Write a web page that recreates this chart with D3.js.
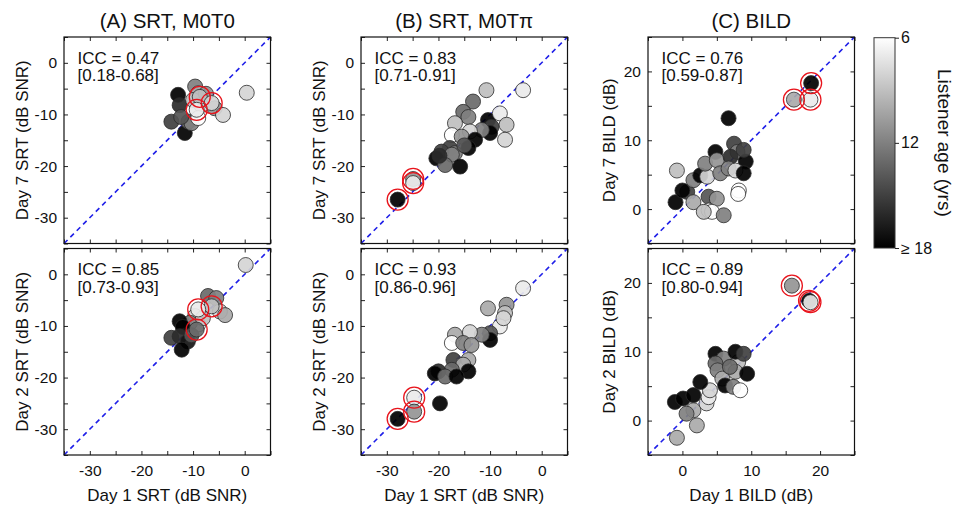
<!DOCTYPE html>
<html>
<head>
<meta charset="utf-8">
<script src="https://cdn.jsdelivr.net/npm/d3@7"></script>
<style>
  body { margin: 0; background: #fff; }
  text { font-family: "Liberation Sans", Arial, Helvetica, sans-serif; fill: #111; }
</style>
</head>
<body>
<svg id="chart" width="955" height="507"></svg>
<script>
// ---- data ----
// (A) SRT M0T0, day 1 vs day 7
const aTopX   = [-12.9, -12.6, -14.2, -11.6, -10.9, -10.3, -12.3, -9.6, -9.0, -10.0, -8.4, -7.5, -5.8, -4.2, -9.0, 0.4, -8.7, -6.4, -9.3];
const aTopY   = [-6.2, -8.2, -11.4, -13.6, -11.4, -11.7, -10.5, -4.6, -5.9, -7.2, -8.2, -6.0, -8.8, -10.1, -10.7, -5.8, -6.6, -7.8, -9.1];
const aTopAge = [18, 16, 15, 18, 13, 12, 14, 12, 10, 9, 8, 11, 11, 8, 6, 8, 9, 8, 7];
// (A) SRT M0T0, day 1 vs day 2
const aBotX   = [-7.1, -5.5, -4.8, -9.6, -9.0, -10.6, -12.6, -12.0, -14.2, -12.6, -11.0, -12.2, -10.3, 0.2, -8.1, -3.8, -6.4, -9.0, -9.3];
const aBotY   = [-4.2, -4.6, -7.2, -8.1, -9.7, -9.4, -9.1, -10.2, -12.3, -12.0, -13.0, -14.6, -11.8, 1.8, -8.5, -7.9, -6.2, -6.8, -10.7];
const aBotAge = [13, 12, 8, 8, 6, 12, 18, 18, 15, 16, 17, 18, 14, 8, 9, 10, 9, 7, 13];
// (B) SRT M0Tpi, day 1 vs day 7
const bTopX   = [-10.7, -3.6, -13.3, -15.2, -14.2, -16.8, -10.4, -9.7, -8.1, -6.8, -7.1, -10.0, -11.6, -13.9, -17.4, -15.5, -12.9, -14.2, -17.8, -16.8, -19.4, -20.4, -17.4, -18.7, -15.8, -19.8, -15.0, -24.9, -24.9, -27.9];
const bTopY   = [-5.3, -5.3, -7.5, -9.5, -10.5, -11.7, -11.1, -12.4, -9.8, -12.0, -14.9, -13.6, -13.0, -13.3, -14.0, -14.3, -14.9, -16.5, -16.5, -17.5, -17.2, -18.5, -17.8, -19.8, -20.1, -18.0, -16.0, -22.5, -23.3, -26.5];
const bTopAge = [9, 7, 13, 13, 12, 9, 18, 15, 7, 9, 8, 18, 12, 8, 6, 11, 18, 18, 15, 12, 15, 18, 12, 13, 18, 16, 14, 11, 7, 18];
// (B) SRT M0Tpi, day 1 vs day 2
const bBotX   = [-3.6, -10.4, -6.8, -7.1, -8.1, -7.4, -10.0, -10.0, -11.6, -13.9, -16.8, -17.4, -15.2, -13.6, -17.1, -14.2, -15.2, -14.2, -17.4, -20.0, -20.7, -18.7, -16.5, -19.7, -24.7, -24.7, -27.9];
const bBotY   = [-2.7, -6.6, -5.9, -7.5, -10.1, -8.5, -11.4, -12.7, -11.7, -11.2, -11.7, -13.3, -13.3, -13.7, -16.6, -16.6, -17.5, -18.8, -18.5, -18.8, -19.2, -19.8, -19.8, -25.0, -23.9, -26.6, -28.0];
const bBotAge = [7, 10, 11, 9, 7, 8, 14, 18, 12, 8, 10, 6, 12, 11, 15, 10, 10, 18, 13, 16, 18, 13, 18, 18, 7, 11, 18];
// (C) BILD, day 1 vs day 7
const cTopX   = [6.7, -0.8, -1.0, 0.7, 0.0, 1.6, 1.6, 2.6, 3.6, 3.3, 4.8, 5.0, 5.5, 7.5, 8.0, 7.0, 9.2, 6.7, 7.7, 8.9, 8.9, 8.2, 8.1, 3.8, 5.0, 3.8, 4.3, 6.0, 3.1, 18.7, 16.2, 18.6];
const cTopY   = [13.2, 5.6, 1.0, 2.5, 2.7, 1.0, 4.2, 4.9, 4.7, 6.6, 8.3, 7.1, 5.2, 9.5, 8.3, 7.6, 6.9, 5.9, 5.6, 5.2, 8.6, 2.7, 2.2, 1.8, 1.5, -0.2, -0.4, -0.9, -0.4, 18.3, 15.9, 15.9];
const cTopAge = [18, 9, 18, 15, 18, 10, 12, 18, 8, 12, 18, 11, 12, 15, 12, 16, 18, 12, 8, 18, 15, 6, 6, 14, 11, 7, 6, 12, 9, 18, 10, 7];
// (C) BILD, day 1 vs day 2
const cBotX   = [-0.8, 2.1, 1.6, 0.6, -1.1, 0.1, 1.6, 3.5, 3.8, 4.0, 2.6, 4.8, 6.0, 4.8, 5.1, 5.8, 6.2, 7.4, 8.4, 8.1, 7.7, 8.9, 7.7, 9.4, 6.9, 15.9, 18.4, 18.6];
const cBotY   = [-2.5, -0.7, 1.5, 1.0, 2.7, 3.2, 3.7, 2.5, 3.4, 4.4, 5.6, 9.7, 9.0, 8.3, 7.3, 6.1, 5.1, 4.9, 4.4, 8.5, 10.0, 9.7, 7.1, 6.8, 7.8, 19.6, 17.4, 17.2];
const cBotAge = [10, 10, 10, 12, 18, 18, 18, 8, 7, 8, 18, 18, 12, 13, 12, 10, 18, 12, 6, 9, 18, 15, 10, 18, 13, 11, 18, 7];
// the three circled listeners are the last three points of every panel
const ringedCount = 3;

const iccValues = ["0.47", "0.83", "0.76", "0.85", "0.93", "0.89"];
const iccRanges = ["[0.18-0.68]", "[0.71-0.91]", "[0.59-0.87]", "[0.73-0.93]", "[0.86-0.96]", "[0.80-0.94]"];
const titles = ["(A) SRT, M0T0", "(B) SRT, M0T\u03c0", "(C) BILD"];
const yTitles = [["Day 7 SRT (dB SNR)", "Day 7 SRT (dB SNR)", "Day 7 BILD (dB)"],
                 ["Day 2 SRT (dB SNR)", "Day 2 SRT (dB SNR)", "Day 2 BILD (dB)"]];
const xTitles = ["Day 1 SRT (dB SNR)", "Day 1 SRT (dB SNR)", "Day 1 BILD (dB)"];
const srtDomain = [-35, 5], srtTickLabels = [-30, -20, -10, 0];
const bildDomain = [-5, 25], bildTickLabels = [0, 10, 20];
const ageDomain = [6, 18], ageTicks = [6, 12, 18], ageTickLabels = ["6", "12", "\u2265 18"];

// ---- layout ----
const colX = [64, 361, 648], rowY = [37, 248.5], size = 206.5;
const svg = d3.select("#chart");
const grey = d3.scaleLinear().domain(ageDomain).range(["#ffffff", "#000000"]).clamp(true);

const panels = [
  {r: 0, c: 0, xs: aTopX, ys: aTopY, age: aTopAge},
  {r: 0, c: 1, xs: bTopX, ys: bTopY, age: bTopAge},
  {r: 0, c: 2, xs: cTopX, ys: cTopY, age: cTopAge},
  {r: 1, c: 0, xs: aBotX, ys: aBotY, age: aBotAge},
  {r: 1, c: 1, xs: bBotX, ys: bBotY, age: bBotAge},
  {r: 1, c: 2, xs: cBotX, ys: cBotY, age: cBotAge}
];

panels.forEach(function(p, i) {
  const dom = p.c == 2 ? bildDomain : srtDomain;
  const labels = p.c == 2 ? bildTickLabels : srtTickLabels;
  const x = d3.scaleLinear().domain(dom).range([0, size]);
  const y = d3.scaleLinear().domain(dom).range([size, 0]);
  const ticks = x.ticks((dom[1] - dom[0]) / 5);
  const fmt = function(d) { return labels.indexOf(d) >= 0 ? d : ""; };

  const g = svg.append("g").attr("transform", "translate(" + colX[p.c] + "," + rowY[p.r] + ")");

  // axes with inward ticks on all four sides
  const bottom = g.append("g").attr("transform", "translate(0," + size + ")")
      .call(d3.axisBottom(x).tickValues(ticks).tickSizeInner(-4).tickSizeOuter(0).tickPadding(10)
        .tickFormat(p.r == 1 ? fmt : ""));
  const top = g.append("g").call(d3.axisTop(x).tickValues(ticks).tickSizeInner(-4).tickSizeOuter(0).tickFormat(""));
  const left = g.append("g")
      .call(d3.axisLeft(y).tickValues(ticks).tickSizeInner(-4).tickSizeOuter(0).tickPadding(7).tickFormat(fmt));
  const right = g.append("g").attr("transform", "translate(" + size + ",0)")
      .call(d3.axisRight(y).tickValues(ticks).tickSizeInner(-4).tickSizeOuter(0).tickFormat(""));
  [bottom, top, left, right].forEach(function(a) {
    a.select(".domain").remove();
    a.selectAll("line").attr("stroke", "#222");
    a.selectAll("text").style("font-size", "15.5px").attr("fill", "#111");
  });

  g.append("defs").append("clipPath").attr("id", "clip" + i)
    .append("rect").attr("width", size).attr("height", size);

  // identity line
  g.append("line")
      .attr("x1", x(dom[0])).attr("y1", y(dom[0]))
      .attr("x2", x(dom[1])).attr("y2", y(dom[1]))
      .attr("stroke", "#1f1fe8").attr("stroke-width", 1.6).attr("stroke-dasharray", "5,4");

  const pts = p.xs.map(function(v, k) { return {x: v, y: p.ys[k], age: p.age[k]}; });
  const plot = g.append("g").attr("clip-path", "url(#clip" + i + ")");
  plot.selectAll("circle.pt").data(pts).enter().append("circle")
      .attr("class", "pt")
      .attr("cx", function(d) { return x(d.x); })
      .attr("cy", function(d) { return y(d.y); })
      .attr("r", 7.5)
      .attr("fill", function(d) { return grey(d.age); })
      .attr("fill-opacity", 0.92)
      .attr("stroke", "#2a2a2a").attr("stroke-width", 0.8);

  plot.selectAll("circle.ring").data(pts.slice(-ringedCount)).enter().append("circle")
      .attr("class", "ring")
      .attr("cx", function(d) { return x(d.x); })
      .attr("cy", function(d) { return y(d.y); })
      .attr("r", 10.5)
      .attr("fill", "none")
      .attr("stroke", "#e8141c").attr("stroke-width", 1.3);

  g.append("rect").attr("width", size).attr("height", size)
      .attr("fill", "none").attr("stroke", "#111").attr("stroke-width", 1.2);

  // ICC annotation
  g.append("text").attr("x", 13.5).attr("y", 26.5).style("font-size", "17px").text("ICC = " + iccValues[i]);
  g.append("text").attr("x", 13.5).attr("y", 44).style("font-size", "17px").text(iccRanges[i]);

  // y title
  g.append("text")
      .attr("transform", "translate(" + (p.c == 2 ? -33 : -36) + "," + (size / 2) + ") rotate(-90)")
      .attr("text-anchor", "middle")
      .style("font-size", "17px")
      .text(yTitles[p.r][p.c]);

  if (p.r == 0) {
    g.append("text").attr("x", size / 2).attr("y", -9).attr("text-anchor", "middle")
        .style("font-size", "20.5px").text(titles[p.c]);
  } else {
    g.append("text").attr("x", size / 2).attr("y", size + 46).attr("text-anchor", "middle")
        .style("font-size", "17px").text(xTitles[p.c]);
  }
});

// ---- colour bar ----
const bar = {x: 874, y: 37.7, w: 21, h: 210.3};
const ageY = d3.scaleLinear().domain(ageDomain).range([bar.y, bar.y + bar.h]);
const grad = svg.append("defs").append("linearGradient").attr("id", "ageGrad")
    .attr("x1", 0).attr("y1", 0).attr("x2", 0).attr("y2", 1);
ageTicks.forEach(function(a) {
  grad.append("stop")
      .attr("offset", (a - ageDomain[0]) / (ageDomain[1] - ageDomain[0]))
      .attr("stop-color", grey(a));
});
svg.append("rect").attr("x", bar.x).attr("y", bar.y).attr("width", bar.w).attr("height", bar.h)
    .attr("fill", "url(#ageGrad)").attr("stroke", "#333").attr("stroke-width", 1);
const cax = svg.append("g").attr("transform", "translate(" + (bar.x + bar.w) + ",0)")
    .call(d3.axisRight(ageY).tickValues(ageTicks).tickSize(4).tickPadding(2)
      .tickFormat(function(d, k) { return ageTickLabels[k]; }));
cax.select(".domain").remove();
cax.selectAll("line").attr("stroke", "#222");
cax.selectAll("text").style("font-size", "16px").attr("fill", "#111");
svg.append("text")
    .attr("transform", "translate(938," + (bar.y + bar.h / 2) + ") rotate(90)")
    .attr("text-anchor", "middle")
    .style("font-size", "19px")
    .text("Listener age (yrs)");
</script>
</body>
</html>
